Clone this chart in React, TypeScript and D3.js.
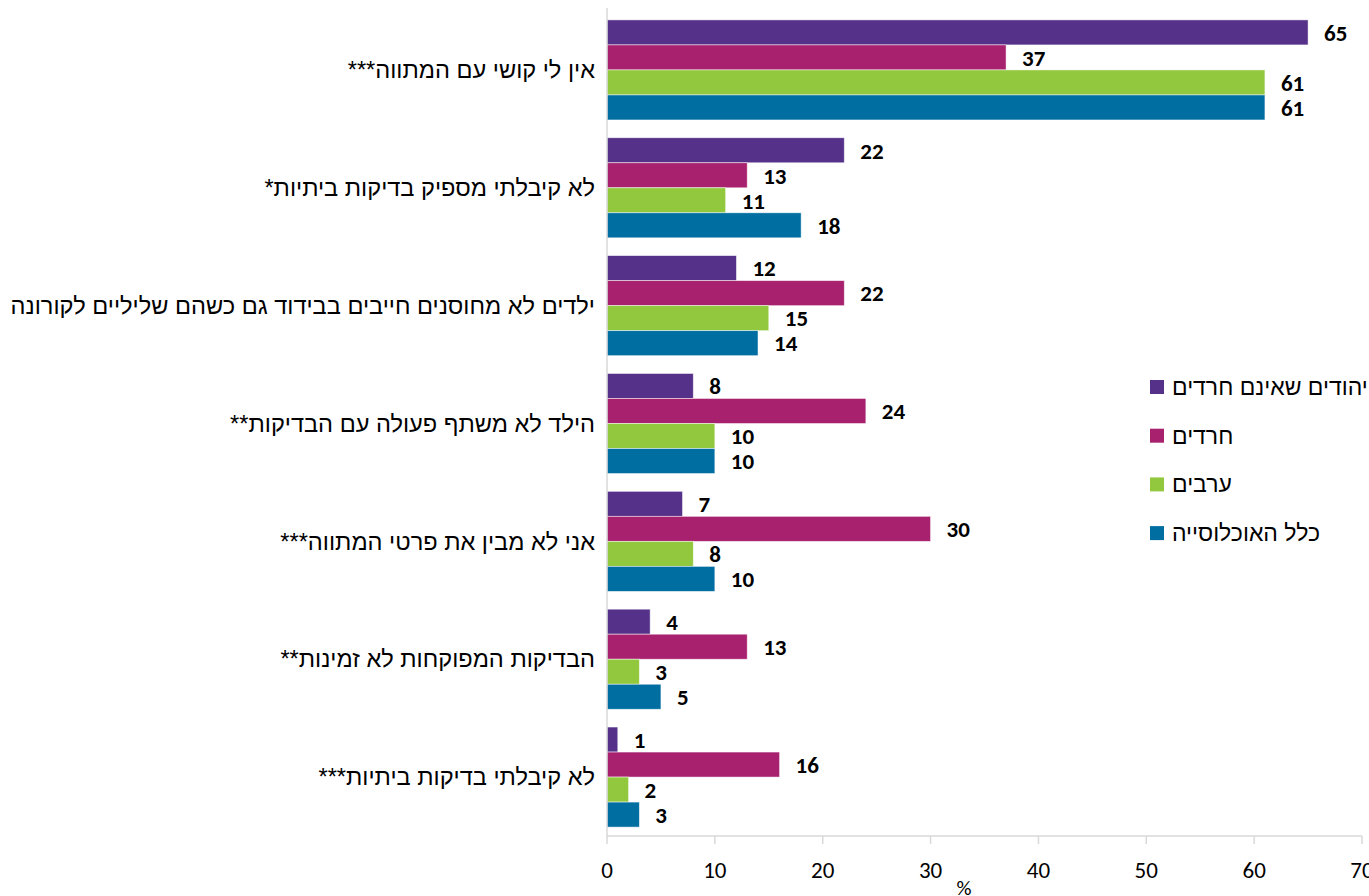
import React from "react";
import * as d3 from "d3";

const categories = [
  "אין לי קושי עם המתווה***",
  "לא קיבלתי מספיק בדיקות ביתיות*",
  "ילדים לא מחוסנים חייבים בבידוד גם כשהם שליליים לקורונה",
  "הילד לא משתף פעולה עם הבדיקות**",
  "אני לא מבין את פרטי המתווה***",
  "הבדיקות המפוקחות לא זמינות**",
  "לא קיבלתי בדיקות ביתיות***",
];
const seriesNames = ["יהודים שאינם חרדים", "חרדים", "ערבים", "כלל האוכלוסייה"];
const seriesColors = ["#55318A", "#A8216F", "#92C83E", "#016EA2"];
const jewsNonHaredi = [65, 22, 12, 8, 7, 4, 1];
const haredim = [37, 13, 22, 24, 30, 13, 16];
const arabs = [61, 11, 15, 10, 8, 3, 2];
const total = [61, 18, 14, 10, 10, 5, 3];
const seriesValues = [jewsNonHaredi, haredim, arabs, total];
const xTicks = [0, 10, 20, 30, 40, 50, 60, 70];

export default function App() {
  const W = 1369, H = 896;
  const left = 607, right = 1362, top = 11, bottom = 836;
  const x = d3.scaleLinear().domain([0, 70]).range([left, right]);
  const y = d3.scaleBand<string>().domain(categories).range([top, bottom]).paddingInner(0.151).paddingOuter(0.0755);
  const inner = d3.scaleBand<number>().domain([0, 1, 2, 3]).range([0, y.bandwidth()]);
  const font = "Carlito, Lato, 'Liberation Sans', sans-serif";
  const heb = "'Liberation Sans', Arial, sans-serif";
  return (
    <svg width={W} height={H} style={{ position: "absolute", left: 0, top: 0, background: "#fff" }}>
      {categories.map((c, ci) => (
        <g key={c}>
          {seriesValues.map((vals, si) => {
            const by = (y(c) as number) + (inner(si) as number);
            return (
              <g key={si}>
                <rect x={x(0)} y={by} width={x(vals[ci]) - x(0)} height={inner.bandwidth()} fill={seriesColors[si]} stroke="#ffffff" strokeOpacity={0.6} strokeWidth={0.8} />
                <text x={x(vals[ci]) + 16} y={by + inner.bandwidth() / 2} dy="0.36em" fontFamily={font} fontWeight="bold" fontSize={23} fill="#000">{vals[ci]}</text>
              </g>
            );
          })}
          <text x={595} y={(y(c) as number) + y.bandwidth() / 2} dy="0.35em" direction="rtl" textAnchor="start" fontFamily={heb} fontSize={23.6} fill="#000">{c}</text>
        </g>
      ))}
      <line x1={left} x2={left} y1={8} y2={bottom} stroke="#D9D9D9" strokeWidth={1.5} />
      <line x1={left} x2={right} y1={bottom} y2={bottom} stroke="#D9D9D9" strokeWidth={1.5} />
      {xTicks.map((t) => (
        <g key={t}>
          <line x1={x(t)} x2={x(t)} y1={bottom} y2={bottom + 8} stroke="#D9D9D9" strokeWidth={1.5} />
          <text x={x(t)} y={870} dy="0.35em" textAnchor="middle" fontFamily={font} fontSize={23} fill="#000">{t}</text>
        </g>
      ))}
      <text x={964} y={888} dy="0.35em" textAnchor="middle" fontFamily={font} fontSize={21} fill="#000">%</text>
      {seriesNames.map((n, i) => (
        <g key={n}>
          <rect x={1150} y={380 + i * 48.7} width={14} height={14} fill={seriesColors[i]} />
          <text x={1172} y={387 + i * 48.7} dy="0.35em" direction="rtl" textAnchor="end" fontFamily={heb} fontSize={23} fill="#000">{n}</text>
        </g>
      ))}
    </svg>
  );
}
